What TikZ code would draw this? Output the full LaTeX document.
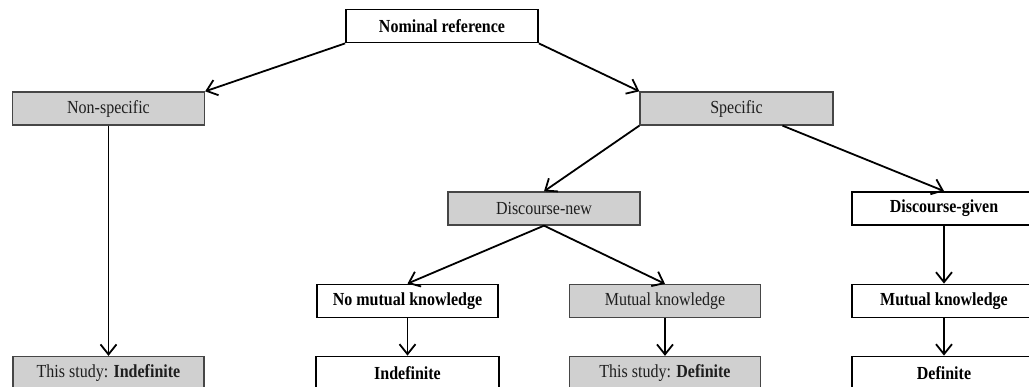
\documentclass[tikz,border=0pt]{standalone}
\usepackage{fontspec}
\usepackage{graphicx}
\setmainfont{Liberation Serif}
\usetikzlibrary{arrows.meta,calc}
\definecolor{boxgrey}{RGB}{208,208,208}
\definecolor{greyline}{RGB}{70,70,70}
\definecolor{greytext}{RGB}{30,30,30}
\newcommand{\vtxt}[1]{\scalebox{1}[1.15]{#1}}
\begin{document}
\begin{tikzpicture}[x=1pt,y=-1pt,
  base/.style={rectangle,inner sep=0pt,minimum height=33pt,font=\fontsize{16}{19}\selectfont},
  whitebox/.style={base,draw=black,line width=1.8pt,fill=white,font=\fontsize{16}{19}\selectfont\bfseries},
  greybox/.style={base,draw=greyline,line width=1.3pt,fill=boxgrey,text=greytext},
  arr/.style={line width=1.8pt,-{Straight Barb[length=10pt,width=16pt,line width=1.8pt]}}]
\useasboundingbox (0,0) rectangle (1029,387);
\clip (0,0) rectangle (1029,387);
\fill[white] (0,0) rectangle (1029,387);
% nodes
\node[whitebox,minimum width=192pt] (nom) at (442,26) {\vtxt{Nominal reference}};
\node[greybox,minimum width=192pt] (nons) at (108.5,108.5) {\vtxt{Non-specific}};
\node[greybox,minimum width=193pt] (spec) at (736.5,108.5) {\vtxt{Specific}};
\node[greybox,minimum width=192pt] (dnew) at (544,208.5) {\vtxt{Discourse-new}};
\node[whitebox,minimum width=184pt] (dgiv) at (944,208.5) {\vtxt{Discourse-given}};
\node[whitebox,minimum width=181pt] (nomk) at (407.5,301) {\vtxt{No mutual knowledge}};
\node[greybox,minimum width=191pt] (mk) at (665,301) {\vtxt{Mutual knowledge}};
\node[whitebox,minimum width=184pt] (mk2) at (944,301) {\vtxt{Mutual knowledge}};
\node[greybox,minimum width=191pt] (ind1) at (108.5,373) {\vtxt{This study: \textbf{Indefinite}}};
\node[whitebox,minimum width=183pt] (ind2) at (407.5,373) {\vtxt{Indefinite}};
\node[greybox,minimum width=191pt] (def1) at (665,373) {\vtxt{This study: \textbf{Definite}}};
\node[whitebox,minimum width=184pt] (def2) at (944,373) {\vtxt{Definite}};
\coordinate (s2) at ($(spec.south)+(46,0)$);
% connectors
\draw[arr] (nom.south west) -- (nons.north east);
\draw[arr] (nom.south east) -- (spec.north west);
\draw[arr] (nons.south) -- (ind1.north);
\draw[arr] (spec.south west) -- (dnew.north);
\draw[arr] (s2) -- (dgiv.north);
\draw[arr] (dnew.south) -- (nomk.north);
\draw[arr] (dnew.south) -- (mk.north);
\draw[arr] (nomk.south) -- (ind2.north);
\draw[arr] (mk.south) -- (def1.north);
\draw[arr] (dgiv.south) -- (mk2.north);
\draw[arr] (mk2.south) -- (def2.north);
\end{tikzpicture}
\end{document}
